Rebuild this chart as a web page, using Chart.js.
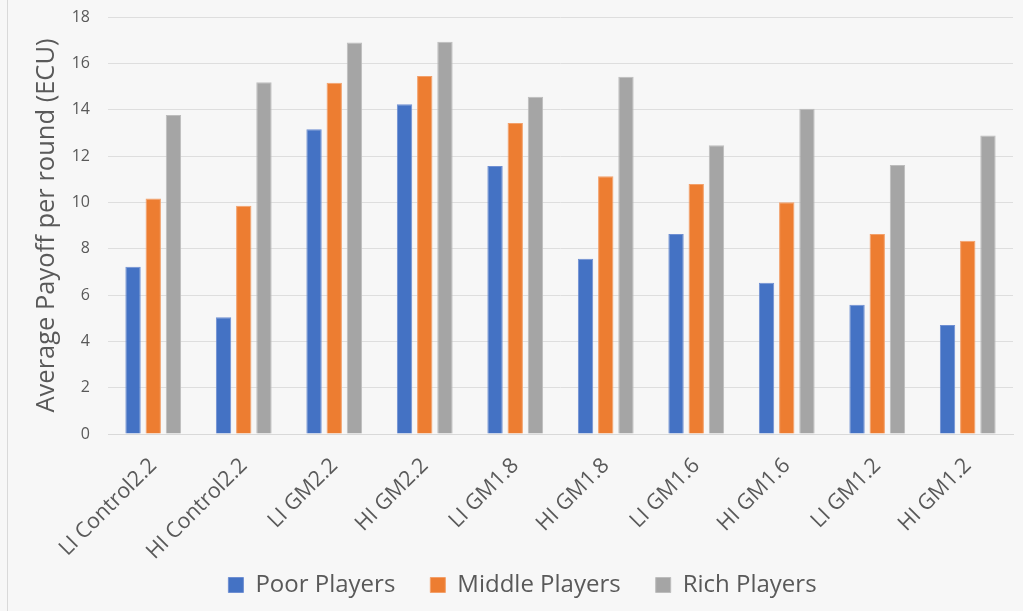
<!DOCTYPE html>
<html>
<head>
<meta charset="utf-8">
<script src="https://cdn.jsdelivr.net/npm/chart.js@4/dist/chart.umd.min.js"></script>
<style>
  html, body { margin: 0; padding: 0; background: #f7f7f7; }
  #wrap { position: relative; width: 1023px; height: 611px; overflow: hidden; }
  #edge { position: absolute; left: 7px; top: 0; width: 1px; height: 611px; background: #d9d9d9; }
  #chart { position: absolute; left: 0; top: 0; }
</style>
</head>
<body>
<div id="wrap">
  <div id="edge"></div>
  <canvas id="chart" width="1023" height="611"></canvas>
</div>
<script>
// Treatments on the category axis
const treatments = [
  'LI Control2.2', 'HI Control2.2', 'LI GM2.2', 'HI GM2.2', 'LI GM1.8',
  'HI GM1.8', 'LI GM1.6', 'HI GM1.6', 'LI GM1.2', 'HI GM1.2'
];

// Average payoff per round (ECU) by player group
const poorPlayers   = [7.22, 5.04, 13.16, 14.23, 11.57, 7.57, 8.63, 6.53, 5.58, 4.70];
const middlePlayers = [10.17, 9.85, 15.16, 15.45, 13.42, 11.13, 10.79, 10.00, 8.63, 8.34];
const richPlayers   = [13.77, 15.18, 16.90, 16.93, 14.56, 15.42, 12.46, 14.04, 11.61, 12.89];

// Value axis ticks
const yTicks = [0, 2, 4, 6, 8, 10, 12, 14, 16, 18];

const FONT = '"Open Sans", "Noto Sans", sans-serif';
const TEXT = '#595959';

// Legend band: a short box at the bottom whose top edge is pulled up and
// shifted right, so the wide item spacing doesn't cost vertical room.
const legendBand = {
  id: 'legendBand',
  beforeUpdate(chart) {
    const lg = chart.legend;
    if (lg && !lg._bandPatched) {
      const fit = lg.fit.bind(lg);
      lg.fit = function () { fit(); this.height = 52; };
      lg._bandPatched = true;
    }
  },
  afterLayout(chart) {
    const lg = chart.legend;
    if (!lg) return;
    lg.top -= 21;
    lg.left += 12;
    lg.right += 12;
  }
};

new Chart(document.getElementById('chart'), {
  type: 'bar',
  data: {
    labels: treatments,
    datasets: [
      { label: 'Poor Players',   data: poorPlayers,   backgroundColor: '#4472c4', borderColor: '#6f8fd2', borderWidth: 1 },
      { label: 'Middle Players', data: middlePlayers, backgroundColor: '#ed7d31', borderColor: '#f3a06a', borderWidth: 1 },
      { label: 'Rich Players',   data: richPlayers,   backgroundColor: '#a5a5a5', borderColor: '#bdbdbd', borderWidth: 1 }
    ]
  },
  options: {
    responsive: false,
    animation: false,
    devicePixelRatio: 1,
    layout: { padding: { left: 8, right: 10, top: 17, bottom: 0 } },
    datasets: { bar: { categoryPercentage: 0.67, barPercentage: 0.76 } },
    plugins: {
      legend: {
        position: 'bottom',
        labels: {
          boxWidth: 15,
          boxHeight: 15,
          padding: 35,
          color: TEXT,
          font: { family: FONT, size: 24 }
        }
      },
      tooltip: { enabled: false }
    },
    scales: {
      x: {
        grid: { display: false, drawTicks: false },
        border: { display: true, color: '#d9d9d9', width: 1 },
        ticks: {
          minRotation: 45,
          maxRotation: 45,
          padding: 19,
          color: TEXT,
          font: { family: FONT, size: 21.5 }
        },
        afterFit(scale) { scale.height = 125; }
      },
      y: {
        min: 0,
        max: 18,
        afterBuildTicks(scale) { scale.ticks = yTicks.map(v => ({ value: v })); },
        grid: { color: '#dedede', lineWidth: 1, drawTicks: true, tickLength: 15, tickColor: 'rgba(0,0,0,0)' },
        border: { display: false },
        ticks: {
          padding: 3,
          color: TEXT,
          font: { family: FONT, size: 16 }
        },
        title: {
          display: true,
          text: 'Average Payoff per round (ECU)',
          color: TEXT,
          padding: { top: 23, bottom: 0 },
          font: { family: FONT, size: 25.5 }
        },
        afterFit(scale) { scale.width = 100; }
      }
    }
  },
  plugins: [legendBand]
});
</script>
</body>
</html>
